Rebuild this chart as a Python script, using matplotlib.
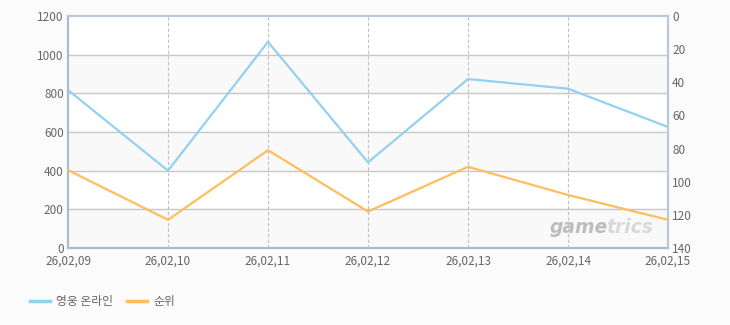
import matplotlib
matplotlib.use('Agg')
import matplotlib.pyplot as plt
import numpy as np

plt.rcParams['font.family'] = ['Noto Sans CJK KR', 'DejaVu Sans']

dates = ['26,02,09', '26,02,10', '26,02,11', '26,02,12', '26,02,13', '26,02,14', '26,02,15']
users = [817, 400, 1066, 443, 874, 824, 626]
rank = [93, 123, 81, 118, 91, 108, 123]

c_blue = '#92d2f0'
c_orange = '#ffbd5c'
c_text = '#666666'

fig = plt.figure(figsize=(7.3, 3.25), dpi=100)
fig.patch.set_facecolor('#fbfbfb')
ax = fig.add_axes([68/730, 1-248/325, 600/730, 232/325])
ax.set_facecolor('white')

x = np.arange(len(dates))
ax.set_xlim(0, len(dates)-1)
ax.set_ylim(0, 1200)
# alternating bands
for lo in range(0, 1200, 400):
    ax.axhspan(lo, lo+200, color='#f9f9f9', zorder=0)
for v in range(200, 1200, 200):
    ax.axhline(v, color='#c8c8c8', lw=1, zorder=1)
for xi in x[1:-1]:
    ax.axvline(xi, color='#c0c0c0', lw=0.8, ls=(0, (3, 2)), zorder=1)

ax.plot(x, users, color=c_blue, lw=1.6, zorder=3)
ax.set_yticks(range(0, 1201, 200))
ax.set_xticks(x)
ax.set_xticklabels(dates)
ax.tick_params(axis='y', length=0, labelsize=8.5, colors=c_text, pad=3)
ax.tick_params(axis='x', length=0, labelsize=8.5, colors=c_text, pad=5)

ax2 = ax.twinx()
ax2.set_ylim(140, 0)
ax2.set_yticks(range(0, 141, 20))
ax2.plot(x, rank, color=c_orange, lw=1.6, zorder=3)
ax2.tick_params(axis='y', length=0, labelsize=8.5, colors=c_text, pad=3)

for a in (ax, ax2):
    a.spines['left'].set_color('#a8bcd0')
    a.spines['bottom'].set_color('#a8bcd0')
    a.spines['top'].set_color('#b8c9dc')
    a.spines['right'].set_color('#b8c9dc')
    for s in a.spines.values():
        s.set_linewidth(1.5)

# watermark
wm_y = 1-237/325
t1 = fig.text(550/730, wm_y, 'game', fontsize=13.5, fontstyle='italic', fontweight='bold',
              color='#bdbdbd', family='DejaVu Sans', va='bottom')
fig.canvas.draw()
bb = t1.get_window_extent()
fig.text((bb.x1 - 2)/730, wm_y, 'trics', fontsize=13.5, fontstyle='italic', fontweight='bold',
         color='#d9d9d9', family='DejaVu Sans', va='bottom')

# legend
fig.add_artist(plt.Line2D([30/730, 50/730], [1-301/325]*2, color=c_blue, lw=2.5))
fig.text(56/730, 1-301/325, '영웅 온라인', fontsize=8.5, color=c_text, va='center')
fig.add_artist(plt.Line2D([127/730, 147/730], [1-301/325]*2, color=c_orange, lw=2.5))
fig.text(153/730, 1-301/325, '순위', fontsize=8.5, color=c_text, va='center')

fig.savefig('out.png', dpi=100, facecolor=fig.get_facecolor())
